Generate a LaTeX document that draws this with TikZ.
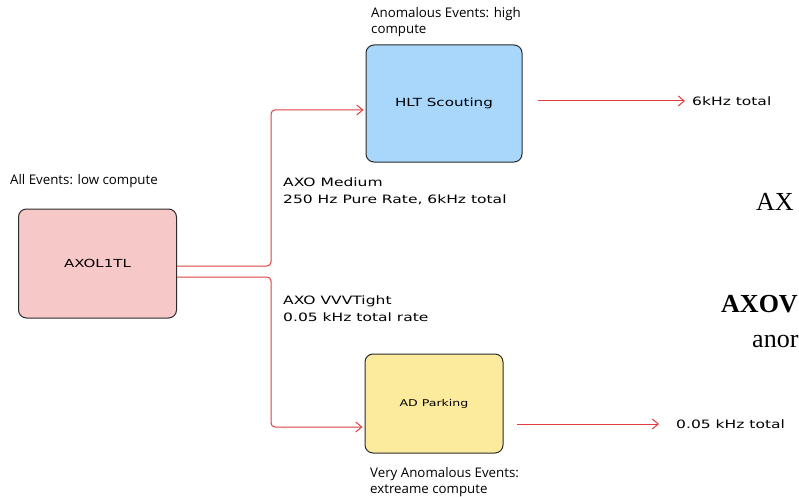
\documentclass[tikz,border=0pt]{standalone}
\usepackage{fontspec}
\usetikzlibrary{arrows.meta}
\newfontfamily\sketchfont[FakeStretch=1.35]{DejaVu Sans}
\newfontfamily\notefont{Open Sans}
\newfontfamily\paperfont{Liberation Serif}
\definecolor{axopink}{HTML}{F7C8C8}
\definecolor{hltblue}{HTML}{A9D6FB}
\definecolor{parkyellow}{HTML}{FCEB9C}
\definecolor{flowred}{HTML}{E03E3E}
\definecolor{inkgray}{HTML}{2B2B2B}
\begin{document}
\begin{tikzpicture}[x=1pt,y=-1pt,
    stage/.style={draw=inkgray,line width=1pt,rounded corners=8pt,inner sep=0pt,
      font=\sketchfont\fontsize{11.1}{13}\selectfont},
    note/.style={anchor=north west,inner sep=0pt,align=left,
      font=\notefont\fontsize{13.3}{16}\selectfont},
    cut/.style={anchor=north west,inner sep=0pt,align=left,
      font=\sketchfont\fontsize{11.5}{17}\selectfont},
    paper/.style={anchor=base west,inner sep=0pt,
      font=\paperfont\fontsize{26}{30}\selectfont},
    flow/.style={draw=flowred,line width=1pt,rounded corners=4pt,
      -{Straight Barb[length=6pt,width=10pt]}}]
  \useasboundingbox (0,0) rectangle (799,497);
  % stages
  \node[stage,fill=axopink,minimum width=158pt,minimum height=109pt] (axo) at (97.5,263.5) {AXOL1TL};
  \node[stage,fill=hltblue,minimum width=156pt,minimum height=117pt,
    font=\sketchfont\fontsize{11.2}{14}\selectfont] (hlt) at (444,103.5) {HLT Scouting};
  \node[stage,fill=parkyellow,minimum width=138pt,minimum height=99pt,
    font=\sketchfont\fontsize{9.3}{12}\selectfont] (park) at (434,403.5) {AD Parking};
  % notes
  \node[note] (allnote) at (10,174) {All Events: low compute};
  \node[note] (hltnote) at (371,7) {Anomalous Events: high\\compute};
  \node[note] (parknote) at (370,467) {Very Anomalous Events:\\extreame compute};
  \node[cut] (medium) at (283,178) {AXO Medium\\250 Hz Pure Rate, 6kHz total};
  \node[cut] (vvvtight) at (283,296) {AXO VVVTight\\0.05 kHz total rate};
  \node[cut,anchor=west] (hltrate) at (692,101) {6kHz total};
  \node[cut,anchor=west] (parkrate) at (676,424) {0.05 kHz total};
  % cut-off page text
  \node[paper] (axsnip) at (756,210) {AX};
  \node[paper,font=\paperfont\bfseries\fontsize{26}{30}\selectfont] (axovsnip) at (721,312) {AXOV};
  \node[paper] (anorsnip) at (752,347) {anor};
  % flows
  \draw[flow,shorten >=2pt] ([yshift=-2.5pt]axo.east) -- ++(94,0) |- ([yshift=-6.5pt]hlt.west);
  \draw[flow,shorten >=2pt] ([yshift=-13.5pt]axo.east) -- ++(94,0) |- ([yshift=-23.5pt]park.west);
  \draw[flow,shorten <=15pt,shorten >=7pt] (hlt.east |- hltrate.west) -- (hltrate.west);
  \draw[flow,shorten <=13pt,shorten >=17pt] (park.east |- parkrate.west) -- (parkrate.west);
\end{tikzpicture}
\end{document}
